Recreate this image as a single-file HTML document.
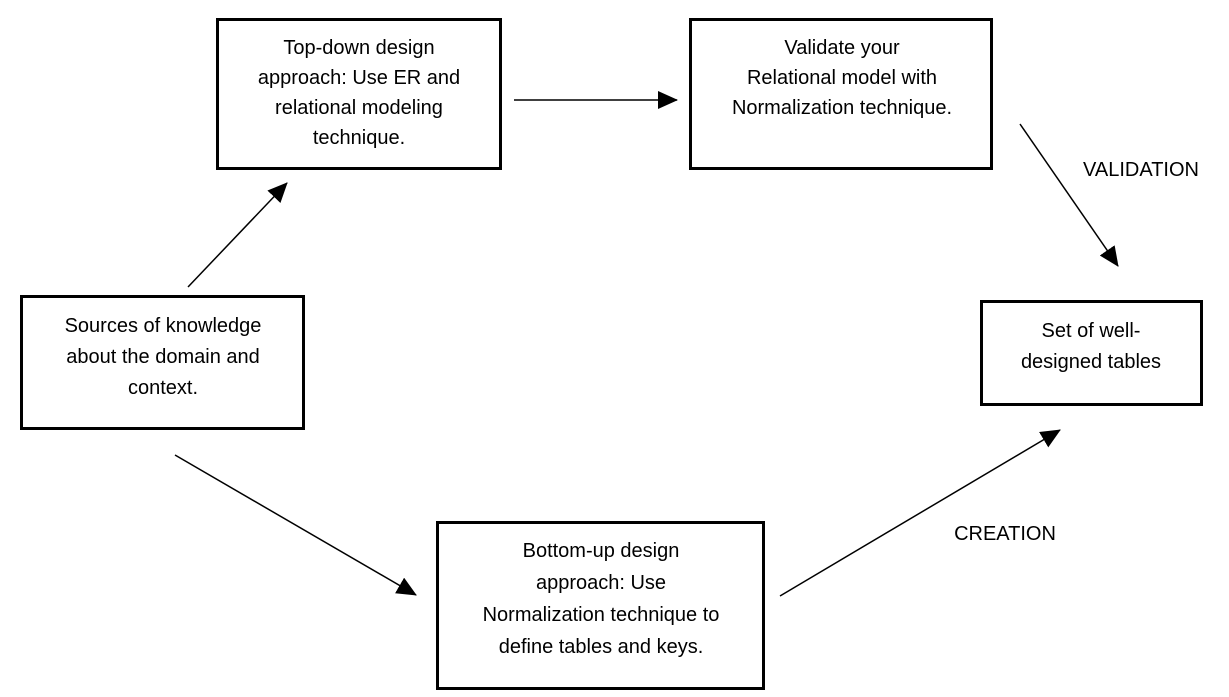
<!DOCTYPE html>
<html><head><style>
html,body{margin:0;padding:0;background:#fff;}
svg{display:block;}
text{font-family:"Liberation Sans",sans-serif;font-size:20px;fill:#000;text-anchor:middle;}
</style></head><body>
<svg width="1229" height="697" viewBox="0 0 1229 697" xmlns="http://www.w3.org/2000/svg">
<defs>
<marker id="b" markerWidth="20" markerHeight="18" refX="19" refY="9" orient="auto" markerUnits="userSpaceOnUse" viewBox="0 0 20 18">
<path d="M0,0 L20,9 L0,18 z" fill="#000"/>
</marker>
</defs>
<g fill="none" stroke="#000" stroke-width="3">
<rect x="217.5" y="19.5" width="283" height="149"/>
<rect x="690.5" y="19.5" width="301" height="149"/>
<rect x="21.5" y="296.5" width="282" height="132"/>
<rect x="981.5" y="301.5" width="220" height="103"/>
<rect x="437.5" y="522.5" width="326" height="166"/>
</g>
<g stroke="#000" stroke-width="1.5">
<line x1="188" y1="287" x2="287" y2="183" marker-end="url(#b)"/>
<line x1="514" y1="100" x2="677" y2="100" marker-end="url(#b)"/>
<line x1="1020" y1="124" x2="1118" y2="266" marker-end="url(#b)"/>
<line x1="175" y1="455" x2="416" y2="595" marker-end="url(#b)"/>
<line x1="780" y1="596" x2="1060" y2="430" marker-end="url(#b)"/>
</g>
<text x="359" y="54">Top-down design</text>
<text x="359" y="84">approach: Use ER and</text>
<text x="359" y="114">relational modeling</text>
<text x="359" y="144">technique.</text>
<text x="842" y="54">Validate your</text>
<text x="842" y="84">Relational model with</text>
<text x="842" y="114">Normalization technique.</text>
<text x="163" y="332">Sources of knowledge</text>
<text x="163" y="363">about the domain and</text>
<text x="163" y="394">context.</text>
<text x="1091" y="337">Set of well-</text>
<text x="1091" y="368">designed tables</text>
<text x="601" y="557">Bottom-up design</text>
<text x="601" y="589">approach: Use</text>
<text x="601" y="621">Normalization technique to</text>
<text x="601" y="653">define tables and keys.</text>
<text x="1141" y="176">VALIDATION</text>
<text x="1005" y="540">CREATION</text>
</svg>
</body></html>
